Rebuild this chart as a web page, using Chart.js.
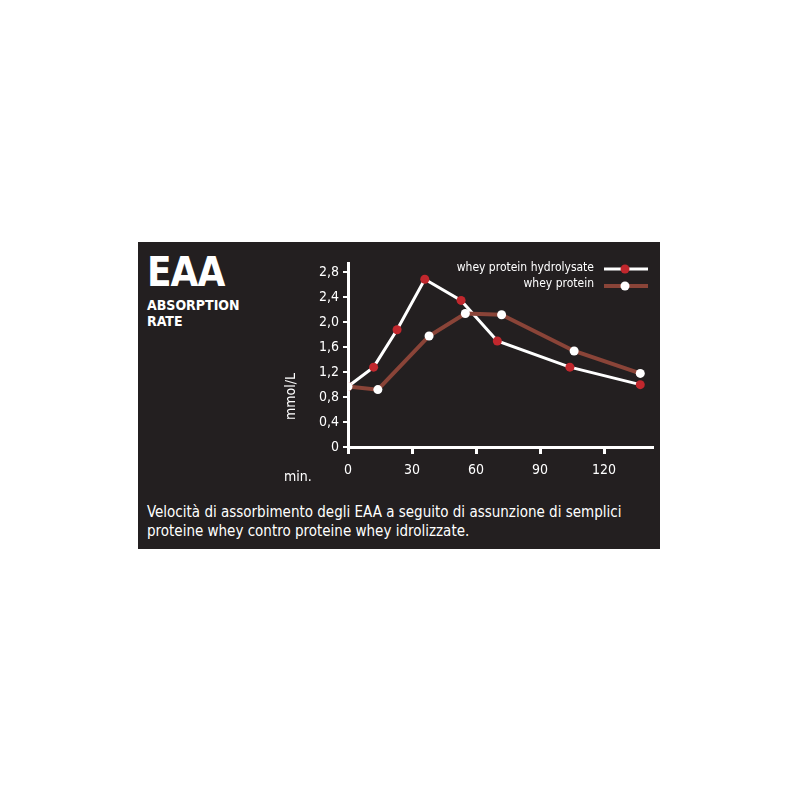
<!DOCTYPE html>
<html><head><meta charset="utf-8">
<script src="https://cdn.jsdelivr.net/npm/chart.js@4"></script>
<style>
body{margin:0;background:#fff;width:800px;height:800px;position:relative;font-family:"DejaVu Sans Condensed","Liberation Sans Narrow",sans-serif}
#panel{position:absolute;left:138px;top:242px;width:522px;height:307px;background:#231f20;color:#fff}
#wrap{position:absolute;left:152px;top:0;width:370px;height:250px}
.t{position:absolute;white-space:nowrap}
</style></head><body>
<div id="panel">
  <div class="t" style="left:9px;top:10px;font-size:40px;font-weight:bold;letter-spacing:-1px;line-height:40px">EAA</div>
  <div class="t" style="left:9px;top:55px;font-size:14px;font-weight:bold;line-height:16px">ABSORPTION<br>RATE</div>
  <div id="wrap"><canvas id="c"></canvas></div>
  <div class="t" style="left:144px;top:178px;font-size:14px;transform:rotate(-90deg);transform-origin:left top">mmol/L</div>
  <div class="t" style="left:146px;top:226px;font-size:14px">min.</div>
  <div class="t" style="right:66px;top:18px;font-size:12px">whey protein hydrolysate</div>
  <div class="t" style="right:66px;top:34px;font-size:12px">whey protein</div>
  <svg style="position:absolute;left:462px;top:18px" width="52" height="36">
    <line x1="4" y1="9" x2="48" y2="9" stroke="#fff" stroke-width="3"/>
    <circle cx="25" cy="9" r="4.5" fill="#c1272d"/>
    <line x1="4" y1="26" x2="48" y2="26" stroke="#8a4438" stroke-width="4"/>
    <circle cx="25" cy="26" r="4.5" fill="#fff"/>
  </svg>
  <div class="t" style="left:9px;top:261px;font-size:15px;line-height:19px">Velocità di assorbimento degli EAA a seguito di assunzione di semplici<br>proteine whey contro proteine whey idrolizzate.</div>
</div>
<script>
const hydroX = [0, 12, 23, 36, 53, 70, 104, 137];
const hydroY = [0.97, 1.28, 1.88, 2.69, 2.35, 1.70, 1.28, 1.00];
const wheyX = [0, 14, 38, 55, 72, 106, 137];
const wheyY = [0.97, 0.92, 1.78, 2.14, 2.12, 1.54, 1.18];
const yTicks = [0, 0.4, 0.8, 1.2, 1.6, 2.0, 2.4, 2.8];
const xTicks = [0, 30, 60, 90, 120];

const pts = (xs, ys) => xs.map((x, i) => ({ x, y: ys[i] }));
new Chart(document.getElementById('c'), {
  type: 'line',
  data: {
    datasets: [
      { data: pts(wheyX, wheyY), borderColor: '#8a4438', borderWidth: 4, pointBackgroundColor: '#fff', pointBorderWidth: 0, pointRadius: 4.5, tension: 0 },
      { data: pts(hydroX, hydroY), borderColor: '#fff', borderWidth: 3, pointBackgroundColor: '#c1272d', pointBorderWidth: 0, pointRadius: 4.5, tension: 0 },
    ],
  },
  options: {
    responsive: true, maintainAspectRatio: false, animation: false,
    layout: { padding: { top: 21, right: 8 } },
    plugins: { legend: { display: false }, tooltip: { enabled: false } },
    scales: {
      x: {
        type: 'linear', min: 0, max: 142.5,
        afterBuildTicks: (s) => { s.ticks = xTicks.map((v) => ({ value: v })); },
        afterFit: (s) => { s.height = 45; },
        border: { color: '#fff', width: 3 },
        grid: { drawOnChartArea: false, color: '#fff', lineWidth: 3, tickLength: 7 },
        ticks: { color: '#fff', padding: 8, font: { family: 'DejaVu Sans Condensed', size: 14 } },
      },
      y: {
        min: 0, max: 2.95,
        afterBuildTicks: (s) => { s.ticks = yTicks.map((v) => ({ value: v })); },
        afterFit: (s) => { s.width = 58; },
        border: { color: '#fff', width: 3 },
        grid: { drawOnChartArea: false, color: '#fff', lineWidth: 2, tickLength: 5 },
        ticks: { color: '#fff', padding: 4, callback: (v) => Number(v) === 0 ? '0' : Number(v).toFixed(1).replace('.', ','), font: { family: 'DejaVu Sans Condensed', size: 14 } },
      },
    },
  },
});
</script>
</body></html>
